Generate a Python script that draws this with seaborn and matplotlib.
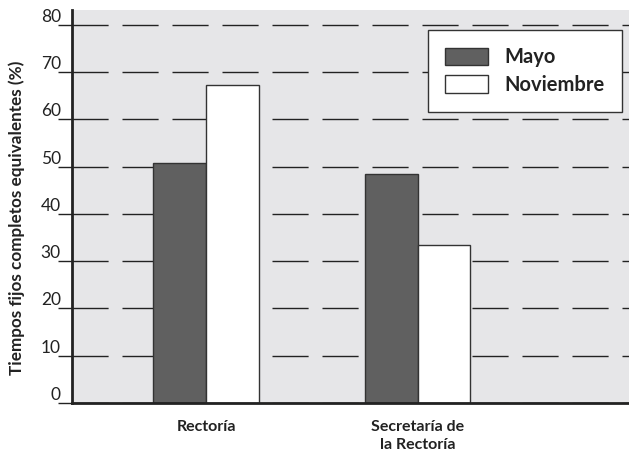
import matplotlib
matplotlib.use("Agg")
import matplotlib.pyplot as plt
import matplotlib.transforms as mtransforms
import seaborn as sns
import pandas as pd

categories = ["Rectoría", "Secretaría de\nla Rectoría"]
series = ["Mayo", "Noviembre"]
mayo = [50.7, 48.4]
noviembre = [67.2, 33.4]
yticks = [0, 10, 20, 30, 40, 50, 60, 70, 80]
ylabel = "Tiempos fijos completos equivalentes (%)"

df = pd.DataFrame({
    "cat": categories * 2,
    "mes": [series[0]] * 2 + [series[1]] * 2,
    "val": mayo + noviembre,
})

sns.set_theme(style="white")
plt.rcParams["font.family"] = ["Lato", "DejaVu Sans"]
plt.rcParams["lines.scale_dashes"] = False

fig = plt.figure(figsize=(6.29, 4.55), dpi=100)
ax = fig.add_axes([72 / 629, 52 / 455, 557 / 629, 393 / 455])
ax.set_facecolor("#e6e6e8")

sns.barplot(data=df, x="cat", y="val", hue="mes", order=categories,
            hue_order=series, palette=["#606060", "#ffffff"], width=0.5,
            edgecolor="#333333", linewidth=1.0, saturation=1, ax=ax, zorder=3)

ax.set_xlim(-0.635, 2.0)
ax.set_ylim(0, 83.1)
ax.set_yticks(yticks)
ax.set_yticklabels([str(t) for t in yticks], fontsize=12.5, color="#222222")
for lab in ax.get_yticklabels():
    lab.set_verticalalignment("bottom")
    lab.set_transform(lab.get_transform() + mtransforms.ScaledTranslation(0, 3 / 100, fig.dpi_scale_trans))
ax.tick_params(axis="y", length=10, width=1, color="#222222", pad=-2, left=True)
ax.tick_params(axis="x", length=0, pad=12)
for lab in ax.get_xticklabels():
    lab.set_fontweight("bold")
    lab.set_fontsize(11.5)
    lab.set_color("#222222")
    lab.set_linespacing(1.35)

ax.yaxis.grid(True, color="#222222", linewidth=1.0, linestyle=(0, (26, 10)), zorder=1)
ax.set_axisbelow(True)

for s in ["top", "right"]:
    ax.spines[s].set_visible(False)
for s in ["left", "bottom"]:
    ax.spines[s].set_visible(True)
    ax.spines[s].set_color("#222222")
    ax.spines[s].set_linewidth(2)
    ax.spines[s].set_zorder(5)

ax.set_xlabel("")
ax.set_ylabel(ylabel, fontsize=12.3, fontweight="bold", color="#222222")
ax.yaxis.set_label_coords(-47 / 557, 0.47)

leg = ax.legend(loc="upper right", bbox_to_anchor=(0.987, 0.949), frameon=True,
                fancybox=False, edgecolor="#333333", framealpha=1,
                prop={"weight": "bold", "size": 14.5}, handlelength=2.15, handleheight=0.95,
                borderpad=0.85, labelspacing=0.38, handletextpad=0.8, borderaxespad=0)
leg.get_frame().set_linewidth(1.0)
for t in leg.get_texts():
    t.set_color("#222222")

fig.savefig("out.png", dpi=100)
